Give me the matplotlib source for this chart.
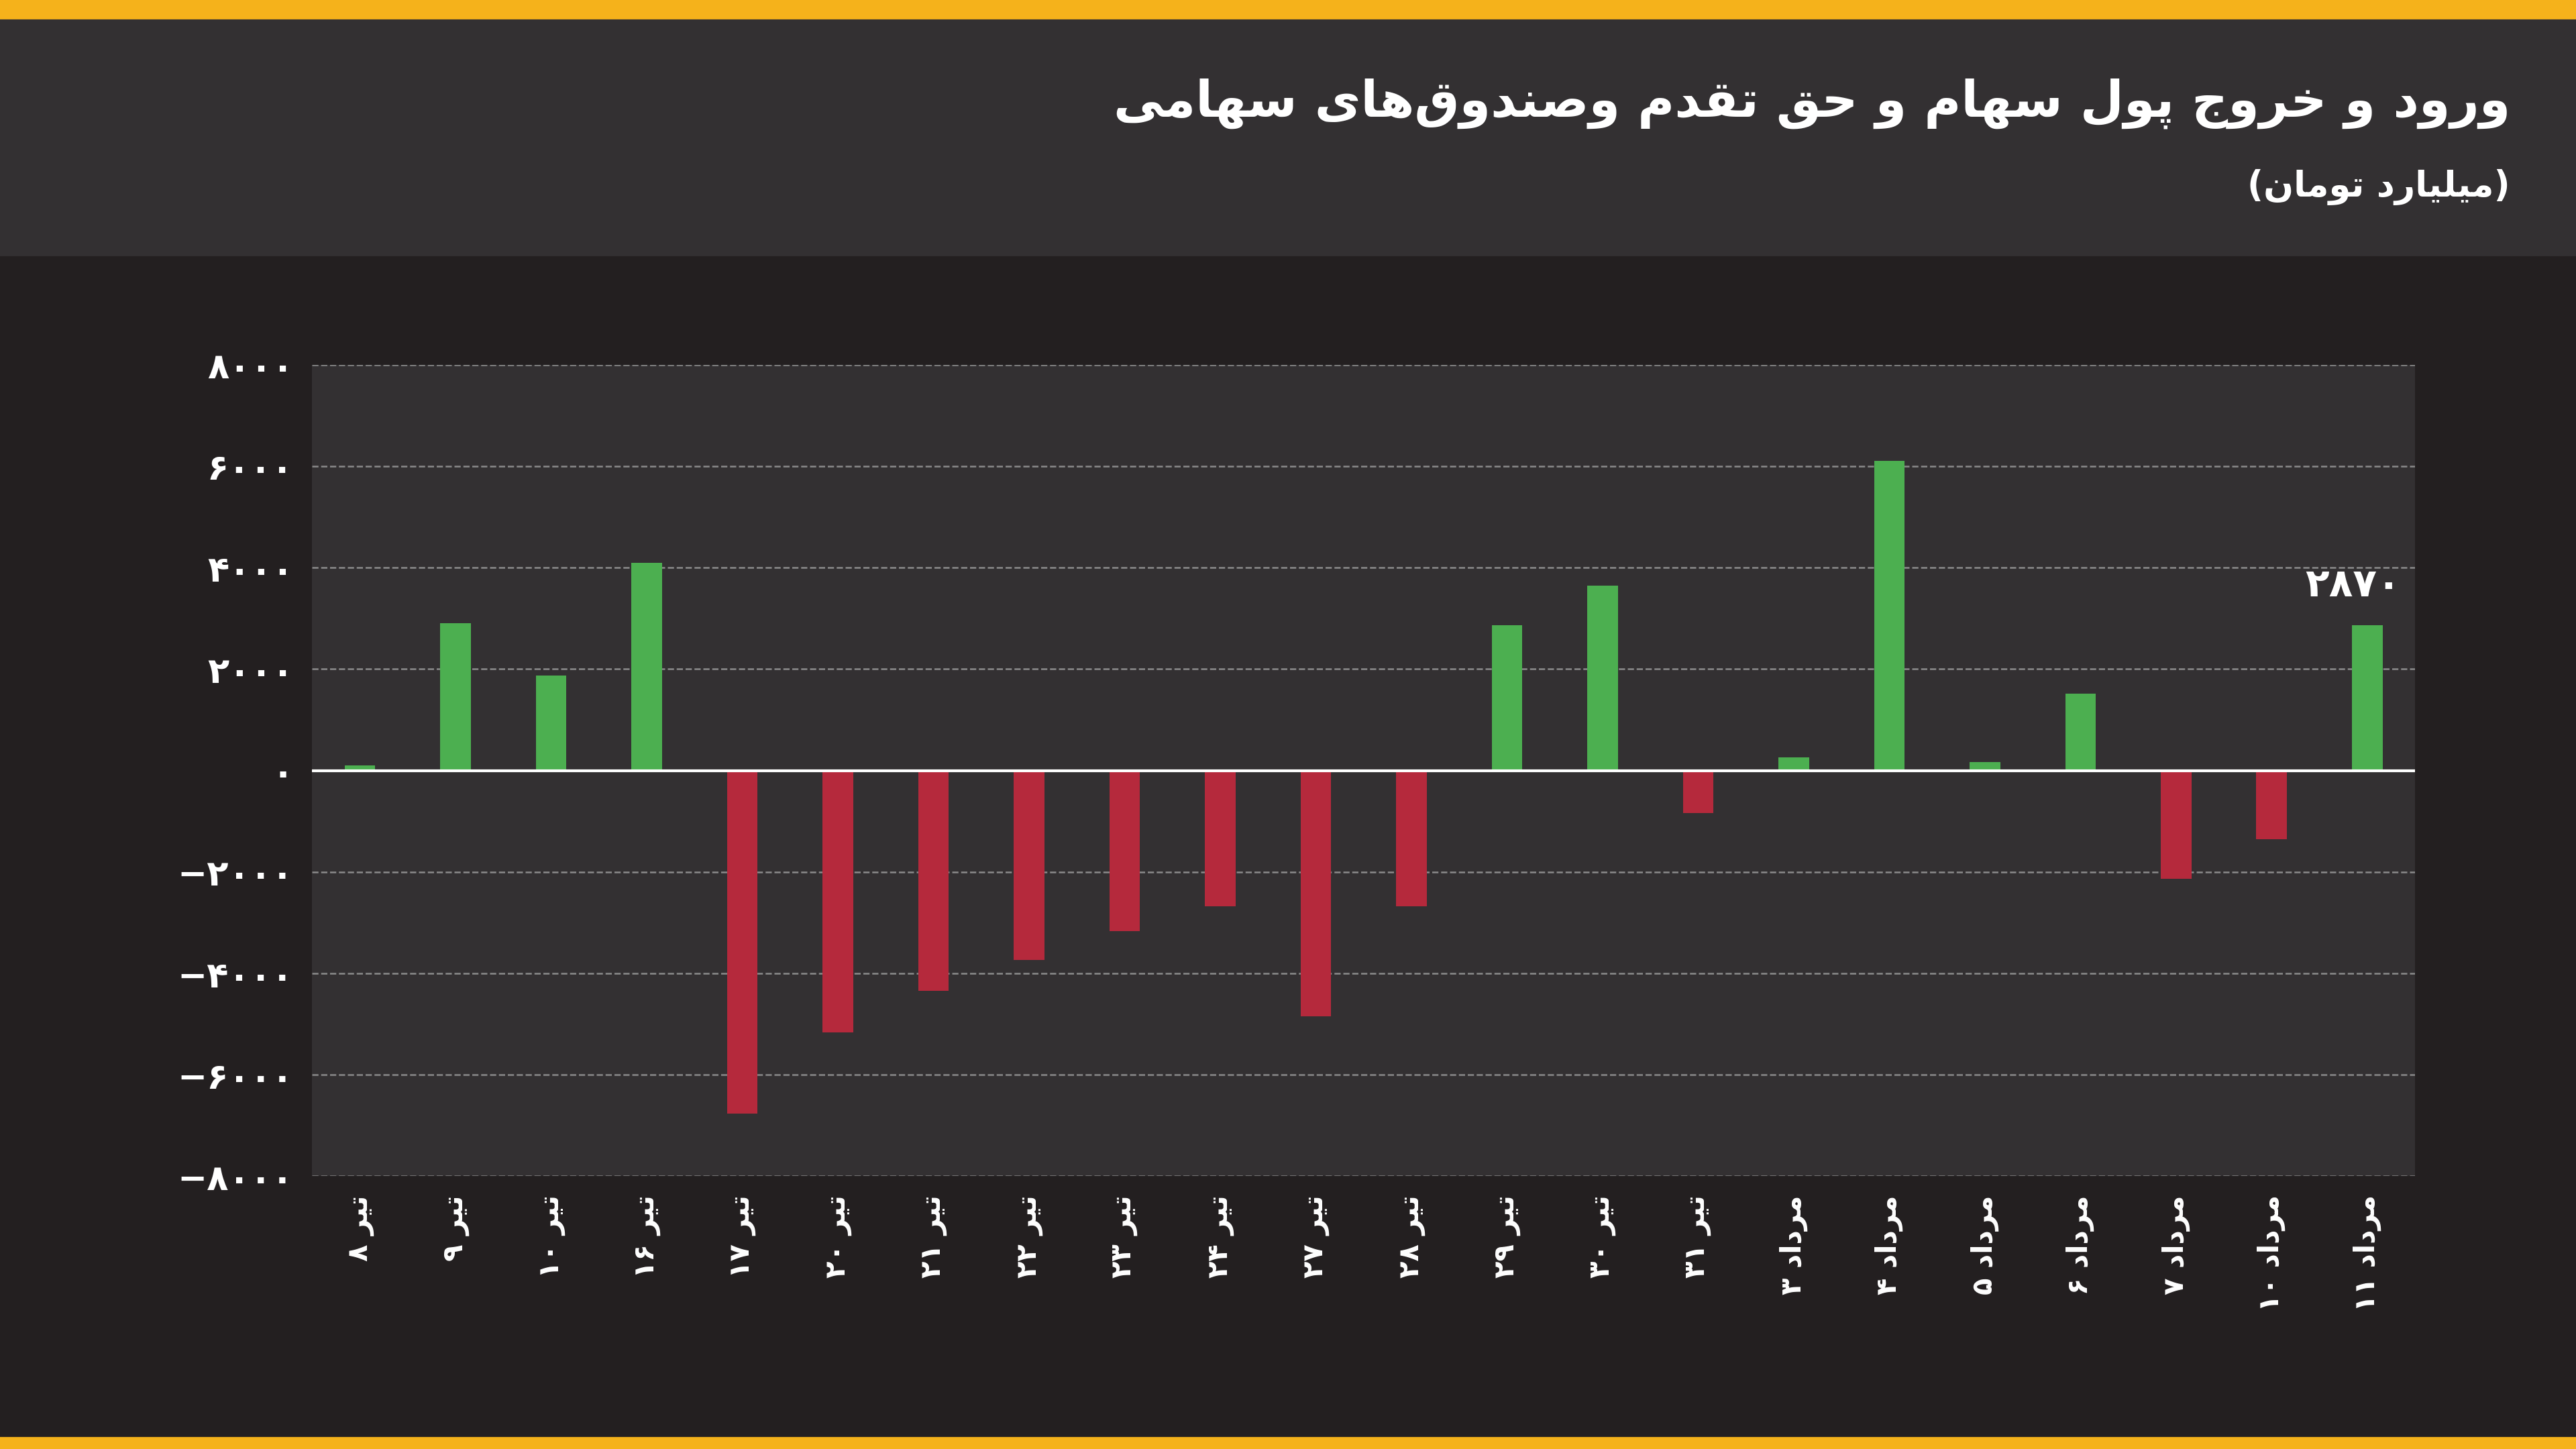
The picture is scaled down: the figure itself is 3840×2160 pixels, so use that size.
import matplotlib
matplotlib.use("Agg")
import matplotlib.pyplot as plt
from matplotlib.patches import Rectangle

plt.rcParams['font.family'] = ['DejaVu Sans']

# ---------- data ----------
day_numbers = [8, 9, 10, 16, 17, 20, 21, 22, 23, 24, 27, 28, 29, 30, 31, 3, 4, 5, 6, 7, 10, 11]
months = ['تیر'] * 15 + ['مرداد'] * 7
values = [100, 2900, 1870, 4100, -6770, -5160, -4350, -3740, -3160, -2680, -4840, -2680,
          2870, 3650, -840, 260, 6100, 160, 1520, -2130, -1350, 2870]
yticks = [-8000, -6000, -4000, -2000, 0, 2000, 4000, 6000, 8000]
title = 'ورود و خروج پول سهام و حق تقدم وصندوق\u200cهای سهامی'
subtitle = '(میلیارد تومان)'
last_label = 2870

# ---------- minimal Persian shaping ----------
FORMS = {  # isolated, final, initial, medial
    'ا': ('\uFE8D', '\uFE8E', None, None), 'ب': ('\uFE8F', '\uFE90', '\uFE91', '\uFE92'),
    'پ': ('\uFB56', '\uFB57', '\uFB58', '\uFB59'), 'ت': ('\uFE95', '\uFE96', '\uFE97', '\uFE98'),
    'ج': ('\uFE9D', '\uFE9E', '\uFE9F', '\uFEA0'), 'ح': ('\uFEA1', '\uFEA2', '\uFEA3', '\uFEA4'),
    'خ': ('\uFEA5', '\uFEA6', '\uFEA7', '\uFEA8'), 'د': ('\uFEA9', '\uFEAA', None, None),
    'ر': ('\uFEAD', '\uFEAE', None, None), 'ز': ('\uFEAF', '\uFEB0', None, None),
    'س': ('\uFEB1', '\uFEB2', '\uFEB3', '\uFEB4'), 'ص': ('\uFEB9', '\uFEBA', '\uFEBB', '\uFEBC'),
    'ق': ('\uFED5', '\uFED6', '\uFED7', '\uFED8'), 'ل': ('\uFEDD', '\uFEDE', '\uFEDF', '\uFEE0'),
    'م': ('\uFEE1', '\uFEE2', '\uFEE3', '\uFEE4'), 'ن': ('\uFEE5', '\uFEE6', '\uFEE7', '\uFEE8'),
    'ه': ('\uFEE9', '\uFEEA', '\uFEEB', '\uFEEC'), 'و': ('\uFEED', '\uFEEE', None, None),
    'ی': ('\uFEEF', '\uFEF0', '\uFEF3', '\uFEF4'),
}

def dual(c):
    return c in FORMS and FORMS[c][2] is not None

def shape(s):
    out = []
    for i, c in enumerate(s):
        if c not in FORMS:
            out.append(c)
            continue
        prev = s[i - 1] if i > 0 else ''
        nxt = s[i + 1] if i + 1 < len(s) else ''
        jp = dual(prev)
        jn = dual(c) and nxt in FORMS
        f = FORMS[c]
        if jp and jn:
            out.append(f[3])
        elif jp:
            out.append(f[1])
        elif jn:
            out.append(f[2])
        else:
            out.append(f[0])
    out = ''.join(out).replace('\u200c', '')
    rev = out[::-1]
    res, run = [], ''
    for ch in rev:
        if ch.isdigit():
            run += ch
        else:
            if run:
                res.append(run[::-1]); run = ''
            res.append({'(': ')', ')': '('}.get(ch, ch))
    if run:
        res.append(run[::-1])
    return ''.join(res)

def fa_num(n):
    s = str(abs(n)).translate(str.maketrans('0123456789', '۰۱۲۳۴۵۶۷۸۹'))
    return ('\u2212' + s) if n < 0 else s

# ---------- figure ----------
BG = '#231f20'
HEADER = '#333032'
PLOT_BG = '#333032'
YELLOW = '#f5b21b'
GREEN = '#4caf50'
RED = '#b5293c'

fig = plt.figure(figsize=(19.2, 10.8), dpi=200, facecolor=BG)
fig.patches.append(Rectangle((0, 1 - 155 / 882), 1, 155 / 882, transform=fig.transFigure,
                             color=HEADER, zorder=0))
fig.patches.append(Rectangle((0, 1 - 11 / 882), 1, 11 / 882, transform=fig.transFigure,
                             color=YELLOW, zorder=1))
fig.patches.append(Rectangle((0, 0), 1, 7 / 882, transform=fig.transFigure,
                             color=YELLOW, zorder=1))

fig.text(1528 / 1568, 1 - 63 / 882, shape(title), ha='right', va='center', color='white',
         fontsize=27, fontweight='bold')
fig.text(1528 / 1568, 1 - 114 / 882, shape(subtitle), ha='right', va='center', color='white',
         fontsize=19, fontweight='bold')

ax = fig.add_axes([190 / 1568, 1 - 716 / 882, 1280 / 1568, 494 / 882])
ax.set_facecolor(PLOT_BG)
x = list(range(len(values)))
colors = [GREEN if v >= 0 else RED for v in values]
ax.bar(x, values, width=0.32, color=colors, zorder=3)
ax.axhline(0, color='white', lw=1.5, zorder=4)
ax.set_ylim(-8000, 8000)
ax.set_xlim(-0.5, len(values) - 0.5)
ax.set_yticks(yticks)
ax.set_yticklabels([fa_num(v) for v in yticks], color='white', fontsize=19, fontweight='bold')
ax.yaxis.grid(True, color='#8a8a8a', ls='--', lw=0.9, zorder=0)
ax.set_xticks(x)
ax.set_xticklabels([shape(f'{m} {fa_num(d)}') for m, d in zip(months, day_numbers)],
                   rotation=90, color='white', fontsize=15, fontweight='bold', va='top', ha='center')
ax.tick_params(length=0, pad=10)
for s in ax.spines.values():
    s.set_visible(False)
ax.text(x[-1] - 0.15, last_label + 400, fa_num(last_label), ha='center', va='bottom', color='white',
        fontsize=21, fontweight='bold')

fig.savefig('out.png', dpi=200, facecolor=BG)
